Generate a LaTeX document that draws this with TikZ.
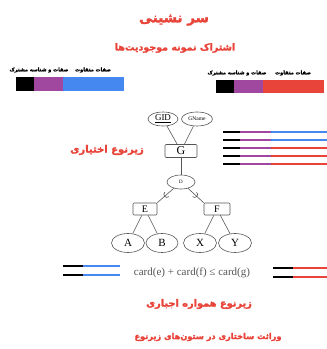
\documentclass[tikz,border=0pt]{standalone}
\usepackage{fontspec}
\setmainfont{Liberation Serif}
\newfontfamily\fa[Script=Arabic,BoldFeatures={FakeBold=2}]{DejaVu Sans}
\TeXXeTstate=1
\usetikzlibrary{shapes.geometric,decorations.markings}
\definecolor{tred}{HTML}{E8443A}
\definecolor{tblue}{HTML}{4488F0}
\definecolor{tpurple}{HTML}{A047A0}
\definecolor{tgray}{HTML}{555555}
\begin{document}
\begin{tikzpicture}[x=1pt,y=-1pt,
  fatext/.style={font=\fa\bfseries, text=tred, inner sep=0},
  smalllab/.style={font=\fa\bfseries\fontsize{5}{6}\selectfont, text=black, inner sep=0},
  ent/.style={draw=tgray, rounded corners=1pt, inner sep=0, line width=0.6pt},
  attr/.style={draw=tgray, ellipse, inner sep=0, line width=0.6pt},
  conn/.style={draw=tgray, line width=0.6pt},
  subsetmark/.style={postaction={decorate}, decoration={markings, mark=at position 0.42 with {\draw[tgray, line width=0.6pt] (0pt,-3pt) .. controls (4pt,-3pt) and (4pt,3pt) .. (0pt,3pt);}}},
  barline/.style={line width=1.8pt}
]
\useasboundingbox (0,0) rectangle (327,349);

% titles
\node[fatext, font=\fa\bfseries\fontsize{13.5}{16}\selectfont] (title) at (174,20) {\beginR سر نشینی\endR};
\node[fatext, font=\fa\bfseries\fontsize{9.5}{11}\selectfont] (subtitle) at (175,48) {\beginR اشتراک نمونه موجودیت‌ها\endR};

% left bar
\node[smalllab] (l1) at (39,70) {\beginR صفات و شناسه مشترک\endR};
\node[smalllab] (l2) at (93,70) {\beginR صفات متفاوت\endR};
\fill[black] (16,77) rectangle (34,91);
\fill[tpurple] (34,77) rectangle (63,91);
\fill[tblue] (63,77) rectangle (124,91);

% right bar
\node[smalllab] (r1) at (237,73) {\beginR صفات و شناسه مشترک\endR};
\node[smalllab] (r2) at (293,73) {\beginR صفات متفاوت\endR};
\fill[black] (216,80) rectangle (234,93);
\fill[tpurple] (234,80) rectangle (263,93);
\fill[tred] (263,80) rectangle (324,93);

% ER diagram
\node[attr, minimum width=30pt, minimum height=14pt, font=\fontsize{9}{10}\selectfont] (GID) at (163,119) {\underline{GID}};
\node[attr, minimum width=31pt, minimum height=14pt, font=\fontsize{5.5}{6}\selectfont] (GName) at (197,119) {GName};
\node[ent, minimum width=32pt, minimum height=13pt, font=\fontsize{12}{13}\selectfont] (G) at (181,151) {G};
\node[attr, minimum width=28pt, minimum height=14pt, font=\fontsize{5}{6}\selectfont] (D) at (181,182) {D};
\node[ent, minimum width=24pt, minimum height=12pt, font=\fontsize{10}{11}\selectfont] (E) at (145,209) {E};
\node[ent, minimum width=26pt, minimum height=12pt, font=\fontsize{10}{11}\selectfont] (F) at (217,209) {F};
\node[attr, minimum width=33pt, minimum height=19pt, font=\fontsize{11}{12}\selectfont] (A) at (128,243) {A};
\node[attr, minimum width=32pt, minimum height=19pt, font=\fontsize{11}{12}\selectfont] (B) at (162,243) {B};
\node[attr, minimum width=33pt, minimum height=19pt, font=\fontsize{11}{12}\selectfont] (X) at (200,243) {X};
\node[attr, minimum width=33pt, minimum height=19pt, font=\fontsize{11}{12}\selectfont] (Y) at (235,243) {Y};

\draw[conn] (GID) -- (G);
\draw[conn] (GName) -- (G);
\draw[conn] (G) -- (D);
\draw[conn, subsetmark] (D) -- (E.north east);
\draw[conn, subsetmark] (D) -- (F.north west);
\draw[conn] (E) -- (A);
\draw[conn] (E) -- (B);
\draw[conn] (F) -- (X);
\draw[conn] (F) -- (Y);

\node[fatext, font=\fa\bfseries\fontsize{10}{12}\selectfont] (opt) at (107,150) {\beginR زیرنوع اختیاری\endR};

% right five lines
\foreach \yy/\cc in {132/tblue,140/tblue,148/tred,156/tred,164/tred}{
  \draw[barline, black] (223,\yy) -- (240,\yy);
  \draw[barline, tpurple] (240,\yy) -- (271,\yy);
  \draw[barline, \cc] (271,\yy) -- (327,\yy);
}

% bottom double lines
\foreach \yy in {266,275}{
  \draw[barline, black] (63,\yy) -- (83,\yy);
  \draw[barline, tblue] (83,\yy) -- (120,\yy);
}
\foreach \yy in {268,277}{
  \draw[barline, black] (273,\yy) -- (293,\yy);
  \draw[barline, tred] (293,\yy) -- (327,\yy);
}

\node[inner sep=0, text=tgray, font=\fontsize{11}{13}\selectfont] (card) at (192,273) {card(e) + card(f) ≤ card(g)};

\node[fatext, font=\fa\bfseries\fontsize{9.8}{11}\selectfont] (mand) at (199,304) {\beginR زیرنوع همواره اجباری\endR};
\node[fatext, font=\fa\bfseries\fontsize{8.2}{10}\selectfont] (inh) at (208,337) {\beginR وراثت ساختاری در ستون‌های زیرنوع\endR};
\end{tikzpicture}
\end{document}
